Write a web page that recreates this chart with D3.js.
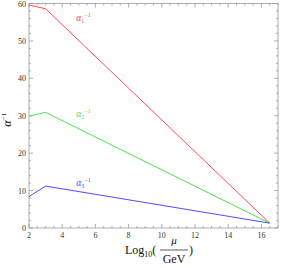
<!DOCTYPE html>
<html><head><meta charset="utf-8">
<script src="https://cdn.jsdelivr.net/npm/d3@7"></script>
<style>body{margin:0;background:#fff}svg{display:block}</style>
</head><body>
<script>
const scaleLog = [2, 3, 16.5];
const alpha1Inv = [59.6, 58.6, 1.3];
const alpha2Inv = [29.9, 30.9, 1.3];
const alpha3Inv = [8.4, 11.2, 1.3];
const seriesNames = ["1", "2", "3"];
const xTicks = [2, 4, 6, 8, 10, 12, 14, 16];
const yTicks = [0, 10, 20, 30, 40, 50, 60];

const W = 285, H = 268;
const m = {l: 29, r: 7, t: 3.5, b: 40};
const svg = d3.select("body").append("svg").attr("width", W).attr("height", H);
const x = d3.scaleLinear().domain([2, 17]).range([m.l, W - m.r]);
const y = d3.scaleLinear().domain([0, 60]).range([H - m.b, m.t]);
const axisCol = "#999";
const font = "Liberation Serif, Times New Roman, serif";

// frame
svg.append("rect").attr("x", x(2)).attr("y", y(60)).attr("width", x(17) - x(2)).attr("height", y(0) - y(60))
  .attr("fill", "none").attr("stroke", axisCol).attr("stroke-width", 0.8);

const xMinor = d3.range(2, 17.01, 0.5).filter(v => !xTicks.includes(v));
const yMinor = d3.range(0, 60.01, 2).filter(v => !yTicks.includes(v));

function ticks(g, vals, len) {
  vals.forEach(v => {
    g.append("line").attr("x1", x(v)).attr("x2", x(v)).attr("y1", y(0)).attr("y2", y(0) - len);
    g.append("line").attr("x1", x(v)).attr("x2", x(v)).attr("y1", y(60)).attr("y2", y(60) + len);
  });
}
function yticks(g, vals, len) {
  vals.forEach(v => {
    g.append("line").attr("y1", y(v)).attr("y2", y(v)).attr("x1", x(2)).attr("x2", x(2) + len);
    g.append("line").attr("y1", y(v)).attr("y2", y(v)).attr("x1", x(17)).attr("x2", x(17) - len);
  });
}
const tg = svg.append("g").attr("stroke", axisCol).attr("stroke-width", 0.8);
ticks(tg, xTicks, 4); ticks(tg, xMinor, 2);
yticks(tg, yTicks, 4); yticks(tg, yMinor, 2);

// tick labels
svg.append("g").selectAll("text").data(xTicks).join("text")
  .attr("x", d => x(d)).attr("y", y(0) + 10).attr("text-anchor", "middle")
  .attr("font-family", font).attr("font-size", 8).attr("fill", "#333").text(d => d);
svg.append("g").selectAll("text").data(yTicks).join("text")
  .attr("x", x(2) - 3).attr("y", d => y(d) + 3).attr("text-anchor", "end")
  .attr("font-family", font).attr("font-size", 8).attr("fill", "#333").text(d => d);

// lines
const colors = ["#ff4d4d", "#4de34d", "#4d4dff"];
const series = [alpha1Inv, alpha2Inv, alpha3Inv];
const line = d3.line().x((d, i) => x(scaleLog[i])).y(d => y(d));
series.forEach((s, k) => {
  svg.append("path").datum(s).attr("d", line).attr("fill", "none")
    .attr("stroke", colors[k]).attr("stroke-width", 1);
});

// series labels
const labelPos = [[4.85, 55.2], [4.85, 29.7], [4.85, 11.1]];
series.forEach((s, k) => {
  const t = svg.append("text").attr("x", x(labelPos[k][0])).attr("y", y(labelPos[k][1]))
    .attr("font-family", font).attr("font-size", 9.5).attr("fill", colors[k]);
  t.append("tspan").attr("font-style", "italic").text("α");
  t.append("tspan").attr("font-size", 6).attr("dy", 2).text(seriesNames[k]);
  t.append("tspan").attr("font-size", 6).attr("dy", -6).text("−1");
});

// y label
const yl = svg.append("text").attr("transform", `translate(11,${y(30) + 4}) rotate(-90)`)
  .attr("text-anchor", "middle").attr("font-family", font).attr("font-size", 12).attr("fill", "#111");
yl.append("tspan").attr("font-style", "italic").text("α");
yl.append("tspan").attr("font-size", 7).attr("dy", -5).text("−1");

// x label
const xl = svg.append("g").attr("font-family", font).attr("fill", "#111");
xl.append("text").attr("x", 125).attr("y", 254).attr("font-size", 12)
  .html('Log<tspan font-size="8" dy="3">10</tspan><tspan dy="-3">(</tspan>');
xl.append("text").attr("x", 174).attr("y", 244).attr("font-size", 11).attr("font-style", "italic")
  .attr("text-anchor", "middle").text("μ");
xl.append("line").attr("x1", 160).attr("x2", 188).attr("y1", 250).attr("y2", 250).attr("stroke", "#111").attr("stroke-width", 0.7);
xl.append("text").attr("x", 174).attr("y", 263).attr("font-size", 12).attr("text-anchor", "middle").text("GeV");
xl.append("text").attr("x", 189).attr("y", 254).attr("font-size", 12).text(")");
</script>
</body></html>
